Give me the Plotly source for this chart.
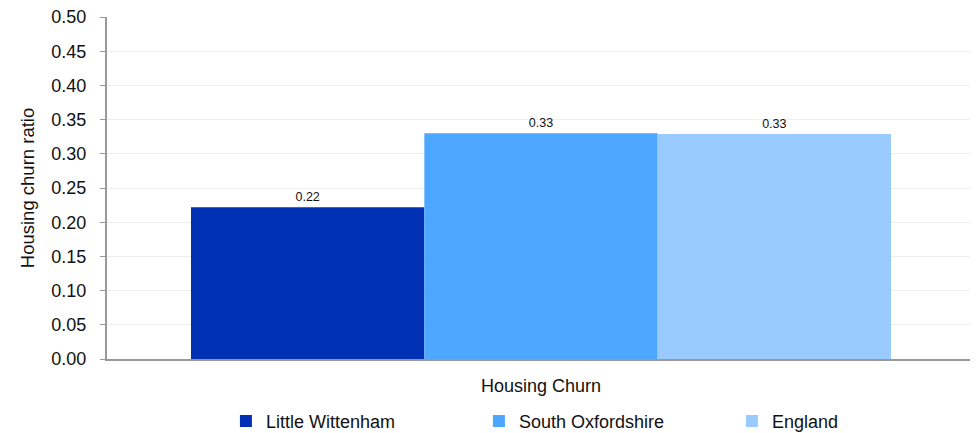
import plotly.graph_objects as go

category = ["Housing Churn"]
series_names = ["Little Wittenham", "South Oxfordshire", "England"]
series_values = [[0.222], [0.330], [0.329]]
series_labels = [["0.22"], ["0.33"], ["0.33"]]
colors = ["#0030B4", "#4DA6FF", "#99CBFF"]
y_ticks = [0.0, 0.05, 0.10, 0.15, 0.20, 0.25, 0.30, 0.35, 0.40, 0.45, 0.50]

FONT = "Liberation Sans, Arial, sans-serif"

fig = go.Figure()
for name, vals, labs, col in zip(series_names, series_values, series_labels, colors):
    fig.add_trace(go.Bar(
        x=category, y=vals, name=name, marker=dict(color=col, line=dict(width=0)),
        text=labs, textposition="outside", cliponaxis=False,
        textfont=dict(family=FONT, size=12.5, color="#111111"),
    ))

# page body has an 8px margin: figure is sized/offset so the plot lands where the reference has it
fig.update_layout(
    width=970, height=425,
    margin=dict(l=99, r=3, t=9, b=74, autoexpand=False),
    paper_bgcolor="white", plot_bgcolor="white",
    barmode="group", bargap=0.1935, bargroupgap=0,
    font=dict(family=FONT, size=18, color="#111111"),
    showlegend=True,
    legend=dict(orientation="h", x=0.137, xanchor="left", y=-0.128, yanchor="top",
                font=dict(family=FONT, size=18, color="#111111"),
                entrywidth=208, entrywidthmode="pixels", itemwidth=30,
                traceorder="normal"),
    xaxis=dict(
        title=dict(text="Housing Churn", font=dict(family=FONT, size=18, color="#111111"), standoff=19),
        showticklabels=False, showline=True, linecolor="#999999", linewidth=2,
        ticks="", showgrid=False, automargin=False,
    ),
    yaxis=dict(
        title=dict(text="Housing churn ratio", font=dict(family=FONT, size=18.5, color="#111111"), standoff=12),
        range=[0, 0.5], tickvals=y_ticks, ticktext=[f"{v:.2f}" for v in y_ticks],
        tickfont=dict(family=FONT, size=18, color="#111111"),
        ticklabeloverflow="allow",
        showline=True, linecolor="#999999", linewidth=2,
        ticks="outside", ticklen=5, tickcolor="#999999", tickwidth=1,
        ticklabelstandoff=10,
        showgrid=True, gridcolor="#EEEEEE", gridwidth=1, zeroline=False, automargin=False,
    ),
    shapes=[dict(type="line", xref="paper", yref="paper", x0=1, x1=1, y0=0, y1=1,
                 line=dict(color="#E6E6E6", width=1))],
)

fig.write_html("out.html")
